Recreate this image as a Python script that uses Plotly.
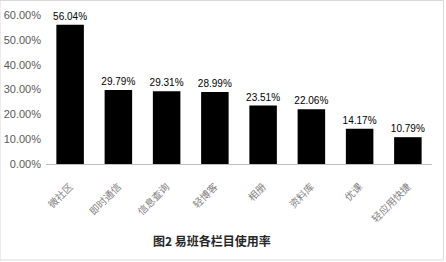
import plotly.graph_objects as go

categories = ["微社区", "即时通信", "信息查询", "轻博客", "相册", "资料库", "优课", "轻应用快捷"]
values = [0.5604, 0.2979, 0.2931, 0.2899, 0.2351, 0.2206, 0.1417, 0.1079]
y_ticks = [0, 0.1, 0.2, 0.3, 0.4, 0.5, 0.6]
title_text = "图2 易班各栏目使用率"

W, H = 446, 262
L, R = 46.4, 431.6
T, B = 15, 164

def px_x(p):
    return (p - L) / (R - L)

def px_y(p):
    return (B - p) / (B - T)

fig = go.Figure()
fig.add_trace(go.Bar(
    x=categories, y=values,
    marker=dict(color="#000000", line=dict(width=0)),
    text=[f"{v*100:.2f}%" for v in values],
    textposition="outside",
    constraintext="none",
    textfont=dict(family="Liberation Sans, Arial", size=10, color="#000000"),
    cliponaxis=False,
))

fig.update_layout(
    width=W, height=H,
    margin=dict(l=L, r=W - R, t=T, b=H - B, autoexpand=False),
    paper_bgcolor="white", plot_bgcolor="white",
    bargap=0.43,
    showlegend=False,
    font=dict(family="Noto Sans CJK SC", color="#595959"),
    xaxis=dict(
        tickangle=-45,
        tickfont=dict(family="Noto Sans CJK SC", size=10, color="#7f7f7f"),
        showline=True, linecolor="#bfbfbf", linewidth=1,
        ticks="", showgrid=False,
        ticklabelstandoff=12,
        automargin=False,
    ),
    yaxis=dict(
        range=[0, 0.6],
        tickvals=y_ticks,
        tickformat=".2%",
        tickfont=dict(family="Liberation Sans, Arial", size=11, color="#595959"),
        showgrid=False, zeroline=False, showline=False, ticks="",
        ticklabelstandoff=4,
        automargin=False,
    ),
    shapes=[dict(
        type="rect", xref="paper", yref="paper",
        x0=px_x(0.5), x1=px_x(443), y0=px_y(260), y1=px_y(0.5),
        line=dict(color="#d9d9d9", width=1), fillcolor="rgba(0,0,0,0)",
        layer="below",
    )],
    annotations=[dict(
        text=f"<b>{title_text}</b>", xref="paper", yref="paper",
        x=px_x(212.5), y=px_y(240), showarrow=False,
        xanchor="center", yanchor="middle",
        font=dict(family="Noto Sans CJK SC", size=12, color="#262626"),
    )],
)

fig.write_html("out.html")
